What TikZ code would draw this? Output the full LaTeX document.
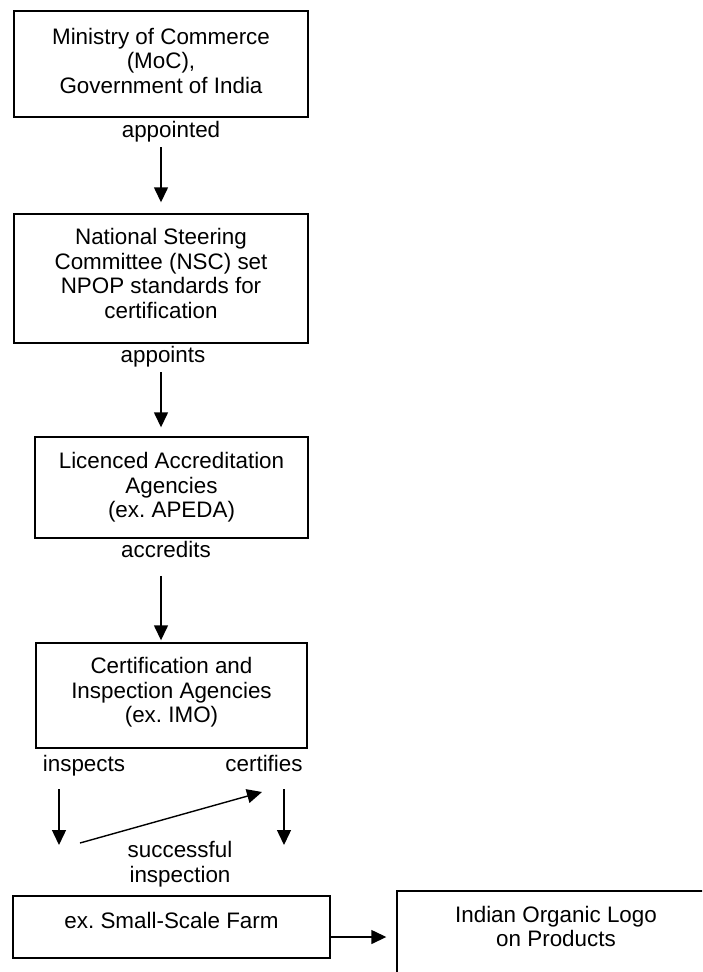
\documentclass[tikz,border=0pt]{standalone}
\usepackage{fontspec}
\setmainfont{Liberation Sans}
\usepackage{tikz}
\usetikzlibrary{positioning,arrows.meta}
\frenchspacing

\begin{document}
\begin{tikzpicture}[x=1pt,y=-1pt,>={Triangle[length=15pt,width=14pt]},line width=1.4pt,
    every node/.style={font=\fontsize{22.4}{24.5}\selectfont}]
  \tikzstyle{box}=[draw=black,line width=1.4pt,align=center]
  \tikzstyle{verb}=[inner sep=0pt,anchor=base]

  \clip (0,0) rectangle (702,972);

  % Bodies
  \node[box,minimum width=294pt,minimum height=106pt,text depth=7pt] (moc) at (161,64) {Ministry of Commerce\\(MoC),\\Government of India};
  \node[box,minimum width=294pt,minimum height=129pt,text depth=10pt] (nsc) at (161,278.5) {National Steering\\Committee (NSC) set\\NPOP standards for\\certification};
  \node[box,minimum width=273pt,minimum height=101pt] (laa) at (171.5,487.5) {Licenced Accreditation\\Agencies\\(ex. APEDA)};
  \node[box,minimum width=271pt,minimum height=105pt,text depth=11pt] (cia) at (171.5,695.5) {Certification and\\Inspection Agencies\\(ex. IMO)};
  \node[box,minimum width=317pt,minimum height=62pt,text depth=14pt] (farm) at (171.5,927) {ex. Small-Scale Farm};
  \node[box,minimum width=318pt,minimum height=110pt,text depth=39pt] (logo) at (556,946) {Indian Organic Logo\\on Products};

  % Labels
  \node[verb] (appointed) at (171,137) {appointed};
  \node[verb] (appoints) at (163,362) {appoints};
  \node[verb] (accredits) at (166,557) {accredits};
  \node[verb] (inspects) at (84,771) {inspects};
  \node[verb] (certifies) at (264,771) {certifies};
  \node[inner sep=0pt,anchor=north,align=center] (success) at (180,840.7) {successful\\inspection};

  \coordinate (inspTop) at (59,789);
  \coordinate (inspEnd) at (59,845);
  \coordinate (certTop) at (284,789);
  \coordinate (certEnd) at (284,845);
  \coordinate (passStart) at (80,843);
  \coordinate (passEnd) at (262,792);

  % Connectors
  \path[->]
    (appointed.south -| moc.south) edge[shorten <=5pt,shorten >=11pt] (nsc.north)
    (appoints.south -| nsc.south) edge[shorten <=5pt,shorten >=9pt] (nsc.south |- laa.north)
    (accredits.south -| nsc.south) edge[shorten <=18pt,shorten >=2pt] (nsc.south |- cia.north)

    (inspTop) edge (inspEnd)
    (certTop) edge (certEnd)
    (passStart) edge (passEnd)

    ([yshift=-10pt]farm.east) edge[shorten >=10pt] ([yshift=-10pt]farm.east -| logo.west);
\end{tikzpicture}
\end{document}
